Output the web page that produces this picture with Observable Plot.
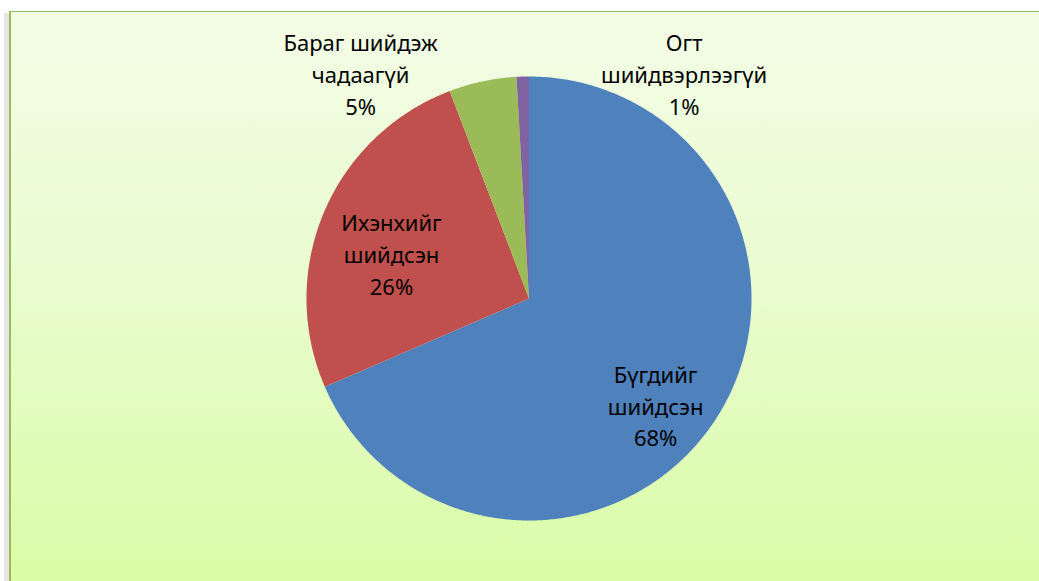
<!DOCTYPE html>
<html>
<head>
<meta charset="utf-8">
<script src="https://cdn.jsdelivr.net/npm/d3@7"></script>
<script src="https://cdn.jsdelivr.net/npm/@observablehq/plot@0.6"></script>
<style>
  html, body { margin: 0; padding: 0; background: #ffffff; }
  #wrap { position: relative; width: 1039px; height: 581px; overflow: hidden; }
  #shadow { position: absolute; left: 4px; top: 13px; width: 6px; height: 600px; background: #e6e6e6; }
  #frame { position: absolute; left: 9px; top: 11px; width: 1040px; height: 600px;
           border-left: 2px solid #9bbb59; border-top: 1px solid #9bbb59;
           background: linear-gradient(to bottom, #f3fde6 0%, #e9fccf 45%, #d8fca2 100%); }
  #chart { position: absolute; left: 0; top: 0; }
</style>
</head>
<body>
<div id="wrap">
  <div id="shadow"></div>
  <div id="frame"></div>
  <div id="chart"></div>
</div>
<script>
// ---- data ----
const categories = ["Бүгдийг шийдсэн", "Ихэнхийг шийдсэн", "Бараг шийдэж чадаагүй", "Огт шийдвэрлээгүй"];
const labelLines = ["Бүгдийг\nшийдсэн", "Ихэнхийг\nшийдсэн", "Бараг шийдэж\nчадаагүй", "Огт\nшийдвэрлээгүй"];
const values = [68.5, 25.7, 4.9, 0.9];
const percentLabels = ["68%", "26%", "5%", "1%"];
const colors = ["#4f81bd", "#c0504d", "#9bbb59", "#8064a2"];

// ---- layout (unit-circle coordinates for label centres) ----
const labelPos = [[0.569, -0.477], [-0.618, 0.207], [-0.757, 1.018], [0.697, 1.018]];

const pie = d3.pie().sort(null).value(d => d)(values);

// slice outlines as polygons in unit-circle coordinates
const pts = [];
pie.forEach((s, i) => {
  const n = Math.max(4, Math.ceil((s.endAngle - s.startAngle) / (Math.PI / 360)));
  pts.push({slice: categories[i], color: colors[i], x: 0, y: 0});
  for (let k = 0; k <= n; k++) {
    const a = s.startAngle + (s.endAngle - s.startAngle) * k / n;
    pts.push({slice: categories[i], color: colors[i], x: Math.sin(a), y: Math.cos(a)});
  }
  pts.push({slice: categories[i], color: colors[i], x: 0, y: 0});
});

const labels = categories.map((c, i) => ({
  text: labelLines[i] + "\n" + percentLabels[i],
  x: labelPos[i][0], y: labelPos[i][1]
}));

const plot = Plot.plot({
  width: 1039,
  height: 581,
  margin: 0,
  style: {background: "transparent", overflow: "visible"},
  x: {domain: [-1, 1], range: [306, 751], axis: null},
  y: {domain: [-1, 1], range: [520, 76], axis: null},
  color: {type: "identity"},
  marks: [
    Plot.line(pts, {x: "x", y: "y", z: "slice", fill: "color", stroke: "none", curve: "linear"}),
    Plot.text(labels, {
      x: "x", y: "y", text: "text",
      fontFamily: "Noto Sans", fontSize: 22, lineHeight: 1.45,
      fill: "#000000", textAnchor: "middle", lineAnchor: "middle"
    })
  ]
});
document.getElementById("chart").appendChild(plot);
</script>
</body>
</html>
